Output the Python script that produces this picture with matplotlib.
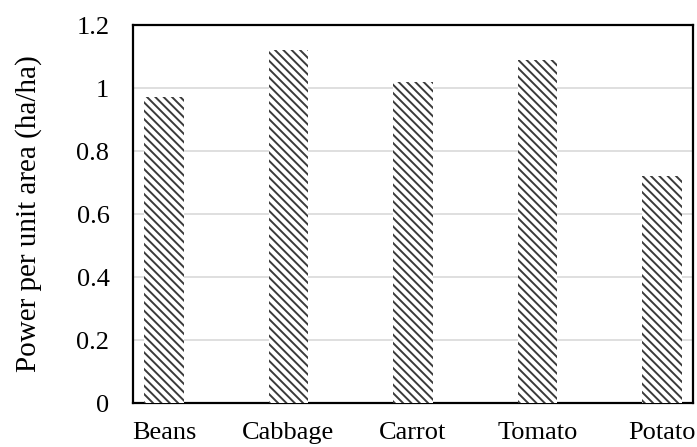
import matplotlib
matplotlib.use("Agg")
import matplotlib.pyplot as plt

categories = ["Beans", "Cabbage", "Carrot", "Tomato", "Potato"]
values = [0.97, 1.12, 1.02, 1.09, 0.72]
yticks = [0, 0.2, 0.4, 0.6, 0.8, 1.0, 1.2]
ytick_labels = ["0", "0.2", "0.4", "0.6", "0.8", "1", "1.2"]

plt.rcParams['font.family'] = ['Liberation Serif', 'DejaVu Serif']
plt.rcParams['hatch.linewidth'] = 1.4

fig = plt.figure(figsize=(6.97, 4.47), dpi=100)
ax = fig.add_axes([0.1908, 0.0984, 0.8035, 0.8456])

x = list(range(len(categories)))
ax.bar(x, values, width=0.32, color='white', edgecolor='#3a3a3a',
       hatch='\\\\\\\\', linewidth=0, zorder=3)

ax.set_xlim(-0.249, 4.249)
ax.set_ylim(0, 1.2)
ax.set_yticks(yticks)
ax.set_yticklabels(ytick_labels)
ax.set_xticks(x)
ax.set_xticklabels(categories)
ax.yaxis.grid(True, color='#d9d9d9', linewidth=1.2, zorder=0)
ax.set_axisbelow(True)
ax.tick_params(axis='both', length=0, labelsize=19)
ax.tick_params(axis='y', pad=17)
ax.tick_params(axis='x', pad=14)
for s in ax.spines.values():
    s.set_linewidth(1.6)
    s.set_color('black')
ax.set_ylabel("Power per unit area (ha/ha)", fontsize=21, labelpad=25)

fig.savefig("out.png", dpi=100)
